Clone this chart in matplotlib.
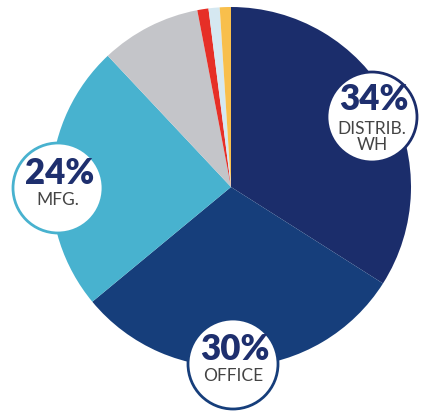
import matplotlib.pyplot as plt
from matplotlib.patches import Circle

# slices, clockwise from 12 o'clock
shares = [34, 30, 24, 9, 1, 1, 1]
names = ['DISTRIB.\nWH', 'OFFICE', 'MFG.', 'Other', 'A', 'B', 'C']
colors = ['#1b2d6b', '#163e7b', '#48b2cf', '#c4c5c9', '#e62f27', '#d5e8f1', '#f8bf4c']

# callouts: (percent text, label)
callouts = [('34%', 'DISTRIB.\nWH'), ('30%', 'OFFICE'), ('24%', 'MFG.')]
callout_pos = [(372, 117), (233, 364), (58, 188)]
callout_edge = ['#1b2d6b', '#163e7b', '#48b2cf']

W, H = 435, 413
fig = plt.figure(figsize=(W / 100, H / 100), dpi=100)
ax = fig.add_axes([0, 0, 1, 1])

cx, cy, r = 231, H - 187, 180
ax.pie(shares, colors=colors, startangle=90, counterclock=False,
       radius=r, center=(cx, cy), frame=True,
       wedgeprops=dict(linewidth=0))
ax.set_xlim(0, W)
ax.set_ylim(0, H)
ax.set_aspect('equal')
ax.axis('off')

for (pct, lab), (x, y), ec in zip(callouts, callout_pos, callout_edge):
    yy = H - y
    ax.add_patch(Circle((x, yy), 45, facecolor='white', edgecolor=ec, lw=2, zorder=5))
    two = '\n' in lab
    ax.text(x + 2, yy + (18 if two else 14), pct, ha='center', va='center', fontsize=25,
            fontweight='heavy', color='#1e2f6e', family='Lato', zorder=6)
    ax.text(x, yy - 4, lab, ha='center', va='top', fontsize=12.5,
            color='#444444', family='Lato', linespacing=1.0, zorder=6)

fig.savefig('out.png', dpi=100, facecolor='white')
